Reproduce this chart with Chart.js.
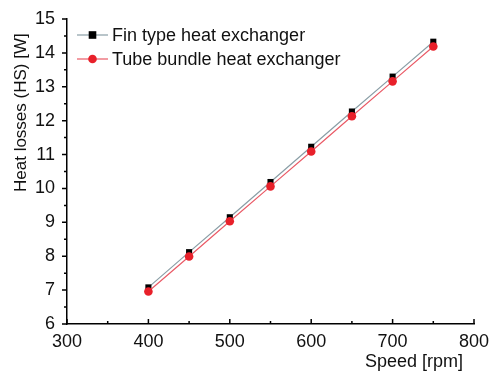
<!DOCTYPE html>
<html>
<head>
<meta charset="utf-8">
<script src="https://cdn.jsdelivr.net/npm/chart.js@4.4.0/dist/chart.umd.min.js"></script>
<style>
  html, body { margin: 0; padding: 0; background: #fff; }
  #wrap { width: 489px; height: 372px; }
</style>
</head>
<body>
<div id="wrap"><canvas id="heatChart"></canvas></div>
<script>
// --- data ---
const speeds = [400, 450, 500, 550, 600, 650, 700, 750];
const finType = [7.08, 8.12, 9.15, 10.19, 11.23, 12.27, 13.30, 14.33];
const tubeBundle = [6.96, 7.99, 9.03, 10.06, 11.09, 12.13, 13.16, 14.19];
const seriesNames = ['Fin type heat exchanger', 'Tube bundle heat exchanger'];
const xTicks = [300, 400, 500, 600, 700, 800];
const yTicks = [6, 7, 8, 9, 10, 11, 12, 13, 14, 15];

const FONT = '"Liberation Sans", Arial, sans-serif';

// minor/major tick marks, axis titles and legend drawn by hand
const decorations = {
    id: 'decorations',
    afterDraw(chart) {
        const ctx = chart.ctx;
        const x = chart.scales.x, y = chart.scales.y;
        const area = chart.chartArea;
        ctx.save();
        ctx.strokeStyle = '#000';
        ctx.lineWidth = 1.5;
        ctx.beginPath();
        // y ticks, outward (left)
        for (let v = 6; v <= 15.001; v += 0.5) {
            const py = y.getPixelForValue(v);
            const len = Number.isInteger(v) ? 5 : 3;
            ctx.moveTo(area.left, py);
            ctx.lineTo(area.left - len, py);
        }
        // x ticks, inward (up)
        for (let v = 300; v <= 800; v += 50) {
            const px = x.getPixelForValue(v);
            const len = v % 100 === 0 ? 5 : 3;
            ctx.moveTo(px, area.bottom);
            ctx.lineTo(px, area.bottom - len);
        }
        ctx.stroke();

        // axis titles
        ctx.fillStyle = '#111';
        ctx.font = '18px ' + FONT;
        ctx.textBaseline = 'alphabetic';
        ctx.textAlign = 'right';
        ctx.fillText('Speed [rpm]', 463, 367);
        ctx.save();
        ctx.font = '17px ' + FONT;
        ctx.translate(26, 192);
        ctx.rotate(-Math.PI / 2);
        ctx.textAlign = 'left';
        ctx.fillText('Heat losses (HS) [W]', 0, 0);
        ctx.restore();

        // legend
        const rows = [35, 59];
        chart.data.datasets.forEach((ds, i) => {
            const ry = rows[i];
            ctx.strokeStyle = ds.borderColor;
            ctx.lineWidth = 1.2;
            ctx.beginPath();
            ctx.moveTo(77, ry);
            ctx.lineTo(108, ry);
            ctx.stroke();
            ctx.fillStyle = ds.pointBackgroundColor;
            if (ds.pointStyle === 'rect') {
                ctx.fillRect(92.5 - 3.8, ry - 3.8, 7.6, 7.6);
            } else {
                ctx.beginPath();
                ctx.arc(92.5, ry, 4.3, 0, Math.PI * 2);
                ctx.fill();
            }
            ctx.fillStyle = '#111';
            ctx.textAlign = 'left';
            ctx.textBaseline = 'middle';
            ctx.fillText(ds.label, 112, ry + 1);
        });
        ctx.restore();
    }
};

new Chart(document.getElementById('heatChart'), {
    type: 'line',
    data: {
        labels: speeds,
        datasets: [{
            label: seriesNames[0],
            data: speeds.map((s, i) => ({ x: s, y: finType[i] })),
            borderColor: '#8a9ea6',
            borderWidth: 1.2,
            pointStyle: 'rect',
            pointRadius: 4.3,
            pointBackgroundColor: '#000',
            pointBorderWidth: 0,
            order: 1
        }, {
            label: seriesNames[1],
            data: speeds.map((s, i) => ({ x: s, y: tubeBundle[i] })),
            borderColor: '#ea5a66',
            borderWidth: 1.2,
            pointStyle: 'circle',
            pointRadius: 4.3,
            pointBackgroundColor: '#e8202a',
            pointBorderWidth: 0,
            order: 0
        }]
    },
    options: {
        responsive: true,
        maintainAspectRatio: false,
        animation: false,
        events: [],
        layout: { padding: { top: 19, right: 15, left: 0, bottom: 0 } },
        plugins: { legend: { display: false }, tooltip: { enabled: false } },
        scales: {
            x: {
                type: 'linear',
                min: 300,
                max: 800,
                afterBuildTicks: s => { s.ticks = xTicks.map(v => ({ value: v })); },
                afterFit: s => { s.height = 48; s.paddingLeft = 0; s.paddingRight = 0; },
                grid: { display: false, drawTicks: false },
                border: { display: true, color: '#000', width: 1.5 },
                ticks: { color: '#111', font: { family: FONT, size: 18 }, padding: 7, maxRotation: 0 }
            },
            y: {
                min: 6,
                max: 15,
                afterBuildTicks: s => { s.ticks = yTicks.map(v => ({ value: v })); },
                afterFit: s => { s.width = 67; s.paddingTop = 0; s.paddingBottom = 0; },
                grid: { display: false, drawTicks: false },
                border: { display: true, color: '#000', width: 1.5 },
                ticks: { color: '#111', font: { family: FONT, size: 18 }, padding: 12 }
            }
        }
    },
    plugins: [decorations]
});
</script>
</body>
</html>
